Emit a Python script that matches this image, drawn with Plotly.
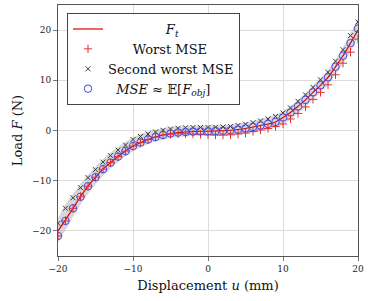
import plotly.graph_objects as go

u = list(range(-20, 21))

f_t = [-20.0, -17.8, -15.5, -13.2, -11.1, -9.3, -7.7, -6.4, -5.2, -4.1, -3.1, -2.4, -1.8, -1.3, -0.9,
       -0.6, -0.4, -0.3, -0.2, -0.15, -0.15, -0.1, -0.05, 0.05, 0.2, 0.4, 0.7, 1.0, 1.3, 1.7,
       2.6, 3.6, 4.8, 6.1, 7.6, 9.0, 10.6, 12.7, 14.9, 17.4, 20.0]

mse_exp = [-21.0, -18.0, -15.5, -13.2, -11.1, -9.3, -7.7, -6.4, -5.2, -4.1, -3.1, -2.4, -1.8, -1.3, -0.9,
           -0.6, -0.4, -0.3, -0.2, -0.15, -0.15, -0.1, -0.05, 0.05, 0.2, 0.4, 0.7, 1.0, 1.3, 1.7,
           2.6, 3.6, 4.8, 6.1, 7.6, 9.0, 10.6, 12.7, 14.9, 17.4, 20.3]

worst = [-21.0, -18.0, -15.5, -13.2, -11.1, -9.3, -7.7, -6.4, -5.2, -4.1, -3.1, -2.4, -1.8, -1.3, -0.9,
         -0.75, -0.65, -0.65, -0.7, -0.75, -0.85, -0.9, -0.9, -0.85, -0.7, -0.5, -0.2, 0.1, 0.4, 0.8,
         1.3, 2.3, 3.4, 4.7, 6.2, 7.6, 9.1, 11.1, 13.4, 15.6, 18.2]

second = [-18.5, -15.5, -13.4, -11.4, -9.4, -7.8, -6.3, -5.0, -3.9, -2.9, -1.8, -1.2, -0.7, -0.3, 0.05,
          0.3, 0.45, 0.55, 0.6, 0.6, 0.6, 0.65, 0.7, 0.8, 1.0, 1.25, 1.55, 1.9, 2.3, 2.8,
          3.5, 4.5, 5.8, 7.1, 8.6, 10.1, 11.6, 13.8, 16.1, 18.9, 21.6]

band_hi = [-17.6, -14.7, -12.6, -10.6, -8.8, -7.2, -5.7, -4.4, -3.3, -2.3, -1.4, -0.7, -0.2, 0.15, 0.45,
           0.65, 0.8, 0.9, 0.95, 1.0, 1.0, 1.05, 1.1, 1.2, 1.4, 1.6, 1.9, 2.3, 2.7, 3.2,
           3.9, 4.9, 6.1, 7.5, 9.0, 10.5, 12.1, 14.2, 16.6, 19.4, 22.3]
band_lo = [-22.3, -19.8, -17.2, -14.8, -12.6, -10.7, -9.0, -7.6, -6.3, -5.2, -4.2, -3.4, -2.7, -2.2, -1.8,
           -1.5, -1.3, -1.2, -1.1, -1.1, -1.1, -1.1, -1.1, -1.0, -0.9, -0.7, -0.45, -0.15, 0.15, 0.55,
           1.2, 2.2, 3.4, 4.7, 6.2, 7.6, 9.1, 11.1, 13.3, 15.7, 18.5]

x_ticks = [-20, -10, 0, 10, 20]
y_ticks = [-20, -10, 0, 10, 20]

FONT = "DejaVu Serif"
NB = "\u00a0"

RED_LINE = "#dd0000"
RED_PLUS = "#e83030"
DARK_X = "#3a3a3a"
BLUE_O = "#4848e8"

fig = go.Figure()
fig.add_trace(go.Scatter(x=u, y=band_hi, mode="lines", line=dict(width=0, shape="spline"),
                         showlegend=False, hoverinfo="skip"))
fig.add_trace(go.Scatter(x=u, y=band_lo, mode="lines", line=dict(width=0, shape="spline"),
                         fill="tonexty", fillcolor="rgba(175,175,175,0.5)",
                         showlegend=False, hoverinfo="skip"))
fig.add_trace(go.Scatter(x=u, y=f_t, mode="lines", line=dict(color=RED_LINE, width=1.2, shape="spline"),
                         name=NB * 14 + "<i>F</i><sub><i>t</i></sub>"))
fig.add_trace(go.Scatter(x=u, y=worst, mode="markers",
                         marker=dict(symbol="cross-thin-open", size=6, color=RED_PLUS,
                                     line=dict(color=RED_PLUS, width=1)),
                         name=NB * 6 + "Worst MSE"))
fig.add_trace(go.Scatter(x=u, y=second, mode="markers",
                         marker=dict(symbol="x-thin-open", size=5, color=DARK_X,
                                     line=dict(color=DARK_X, width=1)),
                         name="Second worst MSE"))
fig.add_trace(go.Scatter(x=u, y=mse_exp, mode="markers",
                         marker=dict(symbol="circle-open", size=7.5, color=BLUE_O,
                                     line=dict(color=BLUE_O, width=1)),
                         name=NB * 2 + "<i>MSE</i> ≈ 𝔼[<i>F</i><sub><i>obj</i></sub>]"))

axis_common = dict(showgrid=True, gridcolor="#dcdcdc", gridwidth=1, zeroline=False,
                   showline=True, linecolor="#555555", linewidth=1, mirror=True,
                   ticks="outside", ticklen=4, tickcolor="#777777",
                   tickfont=dict(family=FONT, size=9, color="#222222"))

fig.update_layout(
    width=368, height=301,
    margin=dict(l=58, r=7, t=4, b=45),
    paper_bgcolor="white", plot_bgcolor="white",
    font=dict(family=FONT, color="#111111"),
    xaxis=dict(range=[-20, 20], tickvals=x_ticks,
               title=dict(text="Displacement <i>u</i> (mm)", font=dict(family=FONT, size=13), standoff=8),
               **axis_common),
    yaxis=dict(range=[-25, 25], tickvals=y_ticks,
               title=dict(text="Load <i>F</i> (N)", font=dict(family=FONT, size=13), standoff=6),
               **axis_common),
    legend=dict(x=0.03, y=0.968, xanchor="left", yanchor="top", traceorder="normal",
                bgcolor="white", bordercolor="#444444", borderwidth=1,
                font=dict(family=FONT, size=13, color="#111111"),
                itemwidth=30, tracegroupgap=0),
)

fig.write_html("out.html")
